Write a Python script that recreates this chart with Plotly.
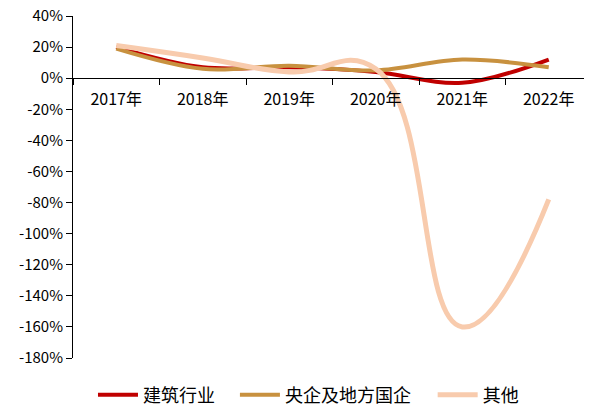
import plotly.graph_objects as go

# 年份与三条增速曲线（%）
years = ['2017年', '2018年', '2019年', '2020年', '2021年', '2022年']
jianzhu = [20, 7, 7, 4, -3, 12]
yangqi = [19, 6, 8, 5, 12, 7]
qita = [21, 13, 4, 6, -160, -78]

y_ticks = list(range(-180, 41, 20))
y_labels = [f'{v}%' for v in y_ticks]

font_cn = 'Noto Sans CJK SC'

fig = go.Figure()
fig.add_trace(go.Scatter(x=years, y=jianzhu, name='建筑行业', mode='lines', legend='legend',
                         line=dict(color='#C00000', width=4, shape='spline', smoothing=1)))
fig.add_trace(go.Scatter(x=years, y=yangqi, name='央企及地方国企', mode='lines', legend='legend2',
                         line=dict(color='#C8913F', width=4, shape='spline', smoothing=1)))
fig.add_trace(go.Scatter(x=years, y=qita, name='其他', mode='lines', legend='legend3',
                         line=dict(color='#F8CBAD', width=5, shape='spline', smoothing=1.3)))

leg = dict(orientation='h', xanchor='left', y=-0.108, yanchor='middle',
           font=dict(size=18), itemwidth=40, borderwidth=0, bgcolor='rgba(0,0,0,0)')

# 页面 body 默认有 8px 外边距，图幅相应缩小
fig.update_layout(
    width=584, height=397,
    margin=dict(l=65, r=0, t=8, b=47, autoexpand=False),
    plot_bgcolor='white', paper_bgcolor='white',
    font=dict(family=font_cn, size=16, color='#000000'),
    showlegend=True,
    legend=dict(leg, x=0.0385),
    legend2=dict(leg, x=0.312),
    legend3=dict(leg, x=0.693),
    xaxis=dict(type='category', range=[-0.5, 5.5], anchor='free', position=180 / 220,
               showline=True, linecolor='#000000', linewidth=1,
               ticks='outside', ticklen=6, tickcolor='#000000', tickson='boundaries',
               showgrid=False, zeroline=False, ticklabelstandoff=7, automargin=False),
    yaxis=dict(range=[-180, 40], tickvals=y_ticks, ticktext=y_labels,
               showline=True, linecolor='#000000', linewidth=1, tickfont=dict(size=15),
               ticks='outside', ticklen=6, tickcolor='#000000', ticklabeloverflow='allow',
               showgrid=False, zeroline=False, automargin=False),
)

fig.write_html('out.html')
